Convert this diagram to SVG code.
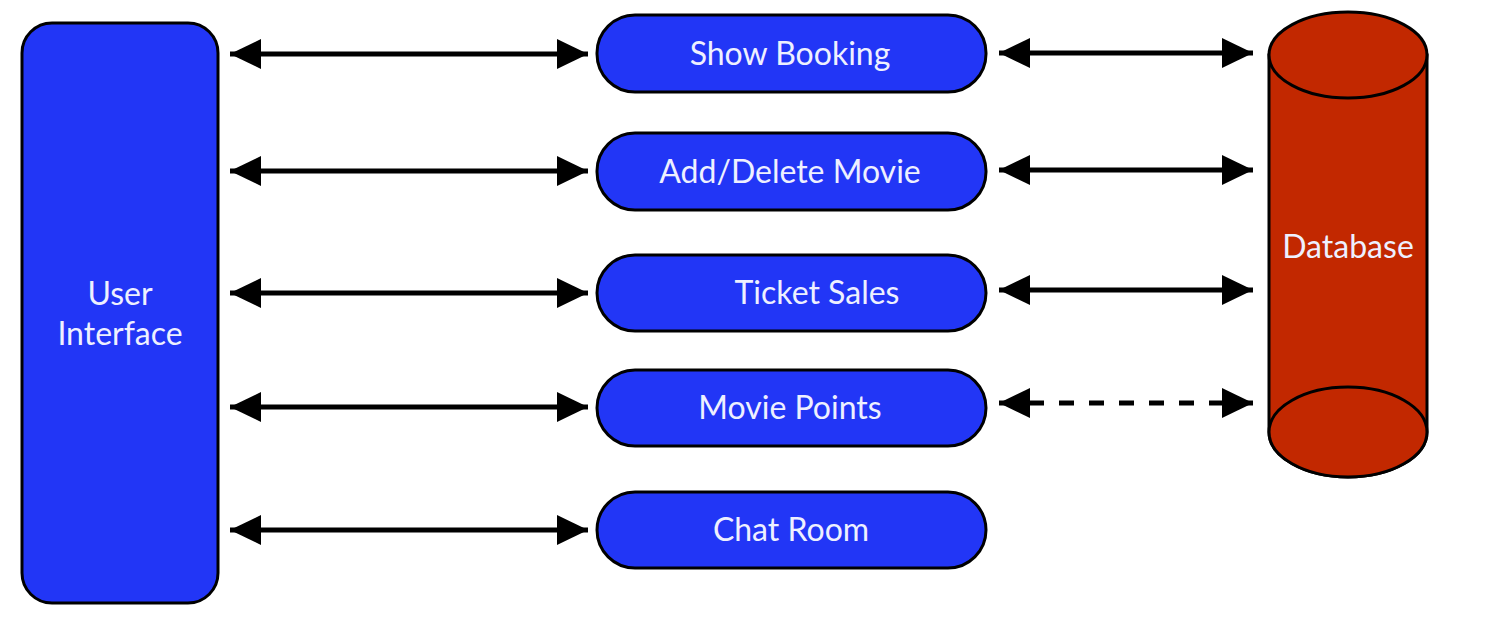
<svg xmlns="http://www.w3.org/2000/svg" width="1500" height="620" viewBox="0 0 1500 620">
<style>
.blue{fill:#2236F6;stroke:#000;stroke-width:3}
.red{fill:#C22800;stroke:#000;stroke-width:3}
.lbl{font-family:Lato,"Open Sans","Liberation Sans",sans-serif;font-size:32px;fill:#EEF0FF;text-anchor:middle}
.con{stroke:#000;stroke-width:5;fill:none;marker-start:url(#ah);marker-end:url(#ah)}
.dash{stroke-dasharray:15 15}
</style>
<defs>
<marker id="ah" markerUnits="userSpaceOnUse" markerWidth="32" markerHeight="30" refX="31" refY="15" orient="auto-start-reverse" viewBox="0 0 32 30">
<path d="M0,0 L31,15 L0,30 z" fill="#000"/>
</marker>
</defs>
<rect width="1500" height="620" fill="#fff"/>
<g id="connectors">
<line class="con" x1="230" y1="54" x2="588" y2="54"/>
<line class="con" x1="230" y1="171" x2="588" y2="171"/>
<line class="con" x1="230" y1="293" x2="588" y2="293"/>
<line class="con" x1="230" y1="407" x2="588" y2="407"/>
<line class="con" x1="230" y1="530" x2="588" y2="530"/>
<line class="con" x1="999" y1="53" x2="1253" y2="53"/>
<line class="con" x1="999" y1="170" x2="1253" y2="170"/>
<line class="con" x1="999" y1="290" x2="1253" y2="290"/>
<line class="con dash" x1="999" y1="403" x2="1253" y2="403"/>
</g>
<g id="user-interface">
<rect class="blue" x="22" y="23" width="196" height="580" rx="30"/>
<text class="lbl" x="120" y="305">User</text>
<text class="lbl" x="120" y="345">Interface</text>
</g>
<g id="show-booking">
<rect class="blue" x="597" y="15" width="389" height="77" rx="38"/>
<text class="lbl" x="790" y="65">Show Booking</text>
</g>
<g id="add-delete-movie">
<rect class="blue" x="597" y="133" width="389" height="77" rx="38"/>
<text class="lbl" x="790" y="183">Add/Delete Movie</text>
</g>
<g id="ticket-sales">
<rect class="blue" x="597" y="255" width="389" height="76" rx="38"/>
<text class="lbl" x="817" y="304">Ticket Sales</text>
</g>
<g id="movie-points">
<rect class="blue" x="597" y="370" width="389" height="76" rx="38"/>
<text class="lbl" x="790" y="419">Movie Points</text>
</g>
<g id="chat-room">
<rect class="blue" x="597" y="492" width="389" height="76" rx="38"/>
<text class="lbl" x="791" y="541">Chat Room</text>
</g>
<g id="database">
<path class="red" d="M1269,55 L1269,432 A79,45 0 0 0 1427,432 L1427,55 Z"/>
<ellipse class="red" cx="1348" cy="432" rx="79" ry="45"/>
<ellipse class="red" cx="1348" cy="55" rx="79" ry="43"/>
<text class="lbl" x="1348" y="258">Database</text>
</g>
</svg>
